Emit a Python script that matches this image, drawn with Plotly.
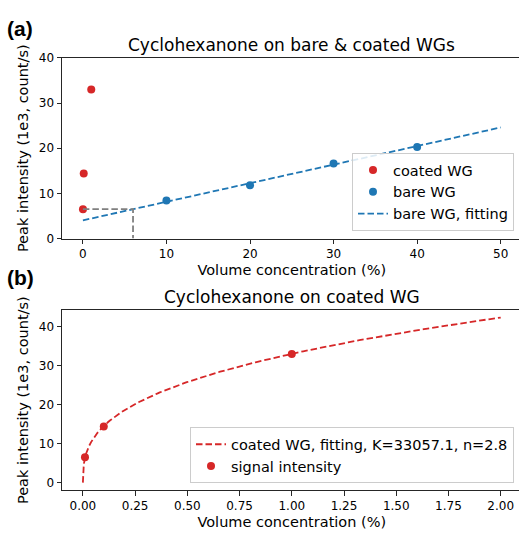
import numpy as np
import plotly.graph_objects as go

# ---------------- data ----------------
coated_x = [0.01, 0.1, 1.0]
coated_y = [6.5, 14.4, 33.0]

bare_x = [10, 20, 30, 40]
bare_y = [8.4, 11.8, 16.6, 20.3]

bare_fit_x = [0, 50]
bare_fit_y = [4.03, 24.6]

guide_x = [0, 6.0, 6.0]
guide_y = [6.5, 6.5, 0]

fit_K = 33057.1
fit_n = 2.8
fit_x = np.concatenate([np.linspace(0, 0.02, 60), np.linspace(0.02, 2.0, 200)])
fit_y = fit_K / 1000.0 * fit_x ** (1.0 / fit_n)

top_xticks = [0, 10, 20, 30, 40, 50]
top_yticks = [0, 10, 20, 30, 40]
bot_xticks = [0.0, 0.25, 0.5, 0.75, 1.0, 1.25, 1.5, 1.75, 2.0]
bot_yticks = [0, 10, 20, 30, 40]

# ---------------- style ----------------
RED = "#d62728"
BLUE = "#1f77b4"
GRAY = "#7f7f7f"
FONT = "DejaVu Sans"
SPINE = "#262626"
W, H = 560, 540      # wider than the window: the axes run off the right edge, as in the reference

fig = go.Figure()

# top panel
fig.add_trace(go.Scatter(x=coated_x, y=coated_y, mode="markers", name="coated WG",
                         marker=dict(color=RED, size=8), xaxis="x", yaxis="y", legend="legend"))
fig.add_trace(go.Scatter(x=bare_x, y=bare_y, mode="markers", name="bare WG",
                         marker=dict(color=BLUE, size=8), xaxis="x", yaxis="y", legend="legend"))
fig.add_trace(go.Scatter(x=bare_fit_x, y=bare_fit_y, mode="lines", name="bare WG, fitting",
                         line=dict(color=BLUE, width=1.8, dash="6.5px,3px"),
                         xaxis="x", yaxis="y", legend="legend"))
fig.add_trace(go.Scatter(x=guide_x, y=guide_y, mode="lines", showlegend=False,
                         line=dict(color=GRAY, width=1.8, dash="6.5px,3px"),
                         xaxis="x", yaxis="y"))

# bottom panel
fig.add_trace(go.Scatter(x=fit_x, y=fit_y, mode="lines",
                         name=f"coated WG, fitting, K={fit_K}, n={fit_n}",
                         line=dict(color=RED, width=1.8, dash="6.5px,3px"),
                         xaxis="x2", yaxis="y2", legend="legend2"))
fig.add_trace(go.Scatter(x=coated_x, y=coated_y, mode="markers", name="signal intensity",
                         marker=dict(color=RED, size=8), xaxis="x2", yaxis="y2", legend="legend2"))

xdom = [62 / W, 521.6 / W]
top_dom = [1 - 237.7 / H, 1 - 52.3 / H]
bot_dom = [1 - 496.3 / H, 1 - 311 / H]

axis_common = dict(showline=True, linecolor=SPINE, linewidth=1, ticks="outside",
                   ticklen=4.5, tickwidth=1, tickcolor=SPINE, showgrid=False, zeroline=False,
                   tickfont=dict(family=FONT, size=12, color="black"))

fig.update_layout(
    width=W, height=H,
    margin=dict(l=0, r=0, t=0, b=0),
    paper_bgcolor="white", plot_bgcolor="white",
    font=dict(family=FONT, color="black"),
    xaxis=dict(domain=xdom, anchor="y", range=[-2.5, 52.5], tickvals=top_xticks, mirror=True,
               title=dict(text="Volume concentration (%)", font=dict(size=14.5), standoff=4),
               **axis_common),
    yaxis=dict(domain=top_dom, anchor="x", range=[0, 40], tickvals=top_yticks,
               title=dict(text="Peak intensity (1e3, count/s)", font=dict(size=14.5), standoff=6),
               **axis_common),
    xaxis2=dict(domain=xdom, anchor="y2", range=[-0.1, 2.1], tickvals=bot_xticks,
                tickformat=".2f", mirror=True,
                title=dict(text="Volume concentration (%)", font=dict(size=14.5), standoff=4),
                **axis_common),
    yaxis2=dict(domain=bot_dom, anchor="x2", range=[-2.0, 44.3], tickvals=bot_yticks,
                title=dict(text="Peak intensity (1e3, count/s)", font=dict(size=14.5), standoff=6),
                **axis_common),
    legend=dict(x=514 / W, xanchor="right", y=1 - 230 / H, yanchor="bottom",
                bgcolor="rgba(255,255,255,0.85)", bordercolor="#cccccc", borderwidth=1,
                font=dict(family=FONT, size=14.5, color="black")),
    legend2=dict(x=514 / W, xanchor="right", y=1 - 489 / H, yanchor="bottom",
                 bgcolor="rgba(255,255,255,0.85)", bordercolor="#cccccc", borderwidth=1,
                 font=dict(family=FONT, size=14.5, color="black")),
    annotations=[
        dict(text="Cyclohexanone on bare &amp; coated WGs", x=291.8 / W, y=1 - 39 / H,
             xref="paper", yref="paper", xanchor="center", yanchor="middle",
             showarrow=False, font=dict(family=FONT, size=17, color="black")),
        dict(text="Cyclohexanone on coated WG", x=291.8 / W, y=1 - 297.3 / H,
             xref="paper", yref="paper", xanchor="center", yanchor="middle",
             showarrow=False, font=dict(family=FONT, size=17, color="black")),
        dict(text="<b>(a)</b>", x=5 / W, y=1 - 22 / H, xref="paper", yref="paper",
             xanchor="left", yanchor="middle", showarrow=False,
             font=dict(family="Liberation Sans", size=21, color="black")),
        dict(text="<b>(b)</b>", x=5 / W, y=1 - 278 / H, xref="paper", yref="paper",
             xanchor="left", yanchor="middle", showarrow=False,
             font=dict(family="Liberation Sans", size=21, color="black")),
    ],
)

fig.write_html(
    "out.html",
    config={"displayModeBar": False},
    post_script="document.body.style.margin='0';document.body.style.padding='0';"
                "document.body.style.overflow='hidden';"
                "document.documentElement.style.overflow='hidden';",
)
